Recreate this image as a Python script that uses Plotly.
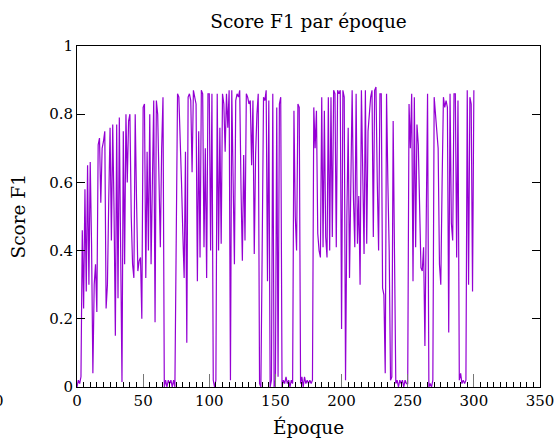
import plotly.graph_objects as go

# F1 score per epoch
f1_scores = [
    0.0, 0.02, 0.01, 0.03, 0.46, 0.23, 0.58, 0.28, 0.65, 0.30,
    0.66, 0.42, 0.04, 0.30, 0.36, 0.22, 0.71, 0.73, 0.54, 0.70,
    0.72, 0.75, 0.23, 0.30, 0.55, 0.76, 0.43, 0.77, 0.52, 0.15,
    0.77, 0.26, 0.79, 0.48, 0.015, 0.75, 0.36, 0.80, 0.60, 0.78,
    0.80, 0.50, 0.36, 0.32, 0.80, 0.55, 0.34, 0.37, 0.38, 0.20,
    0.82, 0.83, 0.32, 0.69, 0.40, 0.80, 0.36, 0.60, 0.84, 0.19,
    0.84, 0.80, 0.60, 0.41, 0.70, 0.85, 0.0, 0.02, 0.0, 0.02,
    0.01, 0.02, 0.0, 0.02, 0.0, 0.45, 0.86, 0.85, 0.75, 0.60,
    0.45, 0.32, 0.69, 0.13, 0.85, 0.86, 0.84, 0.63, 0.87, 0.85,
    0.83, 0.31, 0.75, 0.38, 0.87, 0.86, 0.41, 0.70, 0.32, 0.86,
    0.86, 0.40, 0.86, 0.02, 0.0, 0.02, 0.86, 0.40, 0.76, 0.42,
    0.86, 0.83, 0.69, 0.86, 0.76, 0.87, 0.02, 0.87, 0.60, 0.36,
    0.84, 0.86, 0.85, 0.87, 0.58, 0.37, 0.68, 0.43, 0.86, 0.85,
    0.83, 0.84, 0.65, 0.84, 0.39, 0.68, 0.80, 0.86, 0.01, 0.0,
    0.41, 0.85, 0.84, 0.87, 0.31, 0.84, 0.0, 0.02, 0.86, 0.0,
    0.02, 0.82, 0.03, 0.83, 0.85, 0.0, 0.02, 0.01, 0.03, 0.01,
    0.02, 0.0, 0.02, 0.01, 0.81, 0.50, 0.40, 0.83, 0.82, 0.01,
    0.03, 0.0, 0.03, 0.01, 0.02, 0.01, 0.02, 0.01, 0.02, 0.82,
    0.70, 0.81, 0.45, 0.40, 0.38, 0.85, 0.41, 0.81, 0.44, 0.38,
    0.85, 0.40, 0.85, 0.44, 0.87, 0.86, 0.41, 0.87, 0.86, 0.87,
    0.17, 0.87, 0.85, 0.02, 0.50, 0.76, 0.32, 0.60, 0.87, 0.55,
    0.41, 0.86, 0.42, 0.56, 0.30, 0.87, 0.60, 0.39, 0.87, 0.42,
    0.75, 0.80, 0.85, 0.87, 0.44, 0.87, 0.88, 0.60, 0.40, 0.86,
    0.86, 0.29, 0.27, 0.04, 0.86, 0.60, 0.40, 0.02, 0.03, 0.78,
    0.40, 0.01, 0.02, 0.0, 0.02, 0.01, 0.02, 0.0, 0.02, 0.01,
    0.01, 0.83, 0.70, 0.86, 0.31, 0.85, 0.41, 0.77, 0.71, 0.55,
    0.35, 0.34, 0.41, 0.12, 0.50, 0.86, 0.0, 0.01, 0.0, 0.02,
    0.85, 0.80, 0.74, 0.70, 0.36, 0.30, 0.60, 0.85, 0.82, 0.84,
    0.82, 0.16, 0.86, 0.48, 0.43, 0.86, 0.86, 0.38, 0.84, 0.02,
    0.04, 0.01, 0.02, 0.01, 0.02, 0.87, 0.30, 0.85, 0.83, 0.28,
    0.87,
]
epochs = list(range(len(f1_scores)))

x_ticks = [0, 50, 100, 150, 200, 250, 300, 350]
y_ticks = [0, 0.2, 0.4, 0.6, 0.8, 1]
y_tick_labels = ["0", "0.2", "0.4", "0.6", "0.8", "1"]

title_text = "Score F1 par époque"
x_title = "Époque"
y_title = "Score F1"

FONT = "DejaVu Serif"

fig = go.Figure()
fig.add_trace(go.Scatter(
    x=epochs, y=f1_scores, mode="lines",
    line=dict(color="#9400D3", width=1.2),
    showlegend=False, hoverinfo="skip",
))

W, H = 557, 439
L, R, T, B = 77, 17, 46, 52

fig.update_layout(
    width=W, height=H,
    margin=dict(l=L, r=R, t=T, b=B, autoexpand=False),
    paper_bgcolor="white", plot_bgcolor="white",
    font=dict(family=FONT, size=15, color="black"),
    title=dict(text=title_text, x=0.5, xref="paper", xanchor="center",
               y=1 - 22 / H, yref="container", yanchor="middle",
               font=dict(family=FONT, size=18.5, color="black")),
)

fig.update_xaxes(
    range=[0, 350], tickvals=x_ticks, ticktext=[str(v) for v in x_ticks],
    ticks="inside", ticklen=13, tickcolor="#777777", tickwidth=1,
    minor=dict(dtick=5, ticks="inside", ticklen=5, tickcolor="black", tickwidth=1),
    showline=True, linecolor="black", linewidth=1, mirror=True,
    showgrid=False, zeroline=False,
    tickfont=dict(family=FONT, size=15, color="black"),
)
fig.update_yaxes(
    range=[0, 1], tickvals=y_ticks, ticktext=y_tick_labels,
    ticks="inside", ticklen=8, tickcolor="black", tickwidth=1,
    showline=True, linecolor="black", linewidth=1, mirror="ticks",
    showgrid=False, zeroline=False,
    tickfont=dict(family=FONT, size=15, color="black"),
)

pw = W - L - R
ph = H - T - B
fig.add_annotation(text=x_title, xref="paper", yref="paper",
                   x=(308.5 - L) / pw, y=-(427 - (H - B)) / ph,
                   xanchor="center", yanchor="middle", showarrow=False,
                   font=dict(family=FONT, size=18.5, color="black"))
fig.add_annotation(text=y_title, xref="paper", yref="paper",
                   x=(18 - L) / pw, y=0.5, textangle=-90,
                   xanchor="center", yanchor="middle", showarrow=False,
                   font=dict(family=FONT, size=18.5, color="black"))
# stray clipped "0" at the far left of the x tick-label row (as in the reference)
fig.add_annotation(text="0", xref="paper", yref="paper",
                   x=(-1 - L) / pw, y=-(401 - (H - B)) / ph,
                   xanchor="center", yanchor="middle", showarrow=False,
                   font=dict(family=FONT, size=15, color="black"))

fig.write_html("out.html")
